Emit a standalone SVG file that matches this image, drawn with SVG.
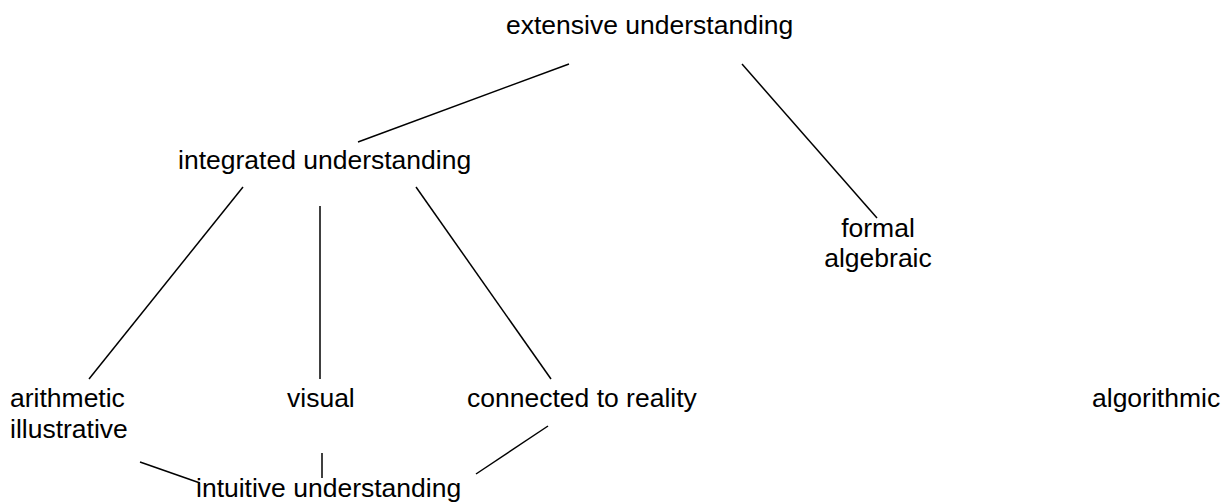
<svg xmlns="http://www.w3.org/2000/svg" width="1222" height="503" viewBox="0 0 1222 503">
<style>
text{font-family:"Liberation Sans",Arial,sans-serif;font-size:26.5px;fill:#000}
.c line{stroke:#000;stroke-width:1.5}
</style>
<rect width="1222" height="503" fill="#fff"/>
<g class="c" id="connectors">
<line x1="569" y1="64" x2="358" y2="142"/>
<line x1="742" y1="64" x2="877" y2="218"/>
<line x1="243" y1="187" x2="89" y2="379"/>
<line x1="320" y1="206" x2="320" y2="379"/>
<line x1="416" y1="187" x2="551" y2="379"/>
<line x1="140" y1="462" x2="200" y2="483"/>
<line x1="322" y1="453" x2="322" y2="478"/>
<line x1="548" y1="426" x2="476" y2="474"/>
</g>
<g id="extensive"><text x="506" y="34">extensive understanding</text></g>
<g id="integrated"><text x="178" y="169">integrated understanding</text></g>
<g id="formal"><text x="878" y="237" text-anchor="middle">formal</text><text x="878" y="267" text-anchor="middle">algebraic</text></g>
<g id="arithmetic"><text x="10" y="407">arithmetic</text><text x="10" y="438">illustrative</text></g>
<g id="visual"><text x="287" y="407">visual</text></g>
<g id="connected"><text x="467" y="407">connected to reality</text></g>
<g id="algorithmic"><text x="1092" y="407">algorithmic</text></g>
<g id="intuitive"><text x="196" y="497">intuitive understanding</text></g>
</svg>
